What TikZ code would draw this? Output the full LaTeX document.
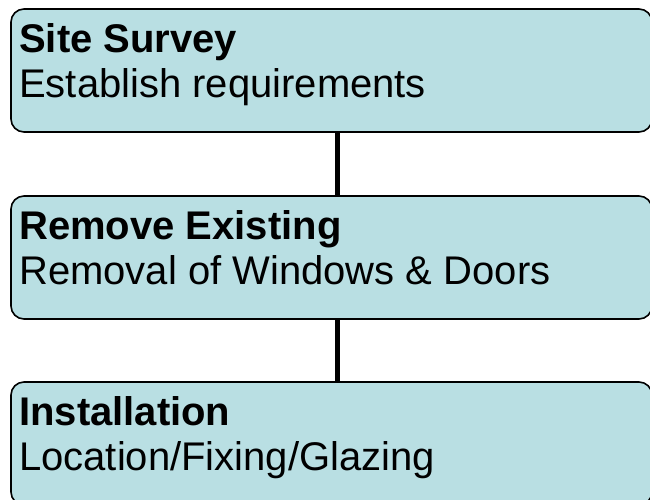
\documentclass[tikz,border=0pt]{standalone}
\usepackage{fontspec}
\setmainfont{Liberation Sans}
\definecolor{stepfill}{RGB}{185,223,227}
\begin{document}
\begin{tikzpicture}[x=1pt,y=-1pt,
    stepbox/.style={rectangle,rounded corners=13pt,draw=black,line width=1.6pt,fill=stepfill,minimum width=641pt,minimum height=123pt,inner sep=0pt},
    steptext/.style={anchor=base west,align=left,inner sep=0pt,font=\fontsize{40}{45}\selectfont},
    link/.style={line width=5pt,draw=black}]
            \useasboundingbox (0,0) rectangle (650,499);

            \node [stepbox] (site) at (331.5,70.5) {};
            \node [stepbox] (remove) at (331.5,257.5) {};
            \node [stepbox] (install) at (331.5,443.5) {};

            \node [steptext] (siteT) at (19,97) {\textbf{Site Survey}\\Establish requirements};
            \node [steptext] (removeT) at (19,284) {\textbf{Remove Existing}\\Removal of Windows \& Doors};
            \node [steptext] (installT) at (19,470) {\textbf{Installation}\\Location/Fixing/Glazing};

            \draw[link] ([xshift=5.5pt]site.south) -- ([xshift=5.5pt]remove.north);
            \draw[link] ([xshift=5.5pt]remove.south) -- ([xshift=5.5pt]install.north);

        \end{tikzpicture}
\end{document}
